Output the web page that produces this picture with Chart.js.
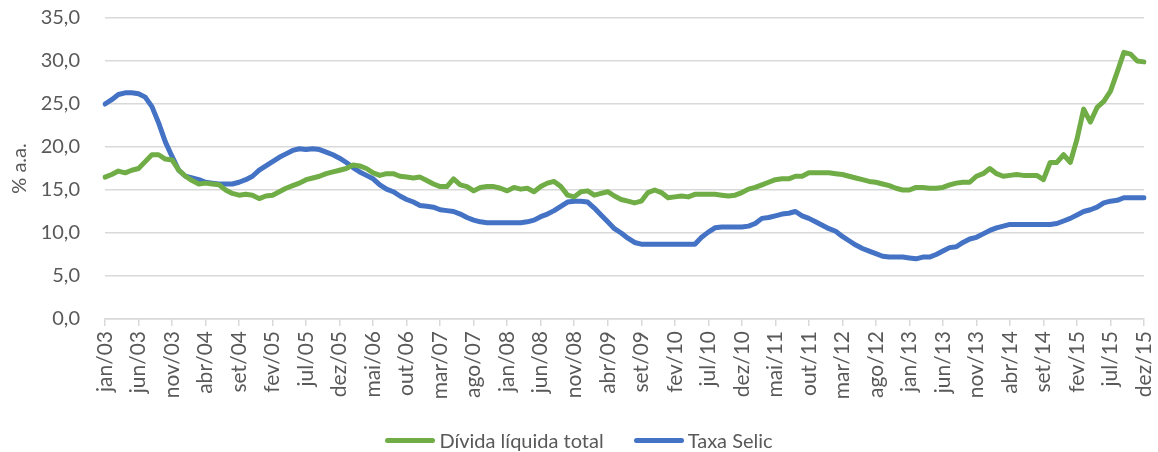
<!DOCTYPE html>
<html lang="pt-BR">
<head>
<meta charset="UTF-8">
<title>Dívida líquida total e Taxa Selic</title>
<style>
    html, body { margin: 0; padding: 0; background: #fff; }
    #wrap { position: relative; width: 1158px; height: 452px; }
    #legend {
        position: absolute;
        left: 0;
        right: 0;
        top: 428px;
        display: flex;
        justify-content: center;
        gap: 30px;
        font-family: Lato, "Open Sans", sans-serif;
        font-size: 20px;
        line-height: 24px;
        color: #595959;
    }
    #legend .item { display: flex; align-items: center; }
    #legend .swatch { width: 50px; height: 5px; border-radius: 3px; margin-right: 4px; }
</style>
</head>
<body>
<div id="wrap">
    <canvas id="chart"></canvas>
    <div id="legend"></div>
</div>
<script src="https://cdn.jsdelivr.net/npm/chart.js"></script>
<script>
    // Monthly series, jan/03 .. dez/15 (% a.a.)
    const monthNames = ['jan', 'fev', 'mar', 'abr', 'mai', 'jun', 'jul', 'ago', 'set', 'out', 'nov', 'dez'];
    const years = ['03', '04', '05', '06', '07', '08', '09', '10', '11', '12', '13', '14', '15'];
    const categories = [];
    years.forEach(y => monthNames.forEach(m => categories.push(m + '/' + y)));

    const dividaLiquida = [
        16.5, 16.8, 17.2, 17.0, 17.3, 17.5, 18.3, 19.1, 19.1, 18.6, 18.5, 17.3,
        16.6, 16.1, 15.7, 15.8, 15.7, 15.6, 15.0, 14.6, 14.4, 14.5, 14.4, 14.0,
        14.3, 14.4, 14.8, 15.2, 15.5, 15.8, 16.2, 16.4, 16.6, 16.9, 17.1, 17.3,
        17.5, 17.9, 17.8, 17.5, 17.0, 16.7, 16.9, 16.9, 16.6, 16.5, 16.4, 16.5,
        16.1, 15.7, 15.4, 15.4, 16.3, 15.6, 15.4, 14.9, 15.3, 15.4, 15.4, 15.2,
        14.9, 15.3, 15.1, 15.2, 14.8, 15.4, 15.8, 16.0, 15.4, 14.4, 14.2, 14.8,
        14.9, 14.4, 14.6, 14.8, 14.3, 13.9, 13.7, 13.5, 13.7, 14.7, 15.0, 14.7,
        14.1, 14.2, 14.3, 14.2, 14.5, 14.5, 14.5, 14.5, 14.4, 14.3, 14.4, 14.7,
        15.1, 15.3, 15.6, 15.9, 16.2, 16.3, 16.3, 16.6, 16.6, 17.0, 17.0, 17.0,
        17.0, 16.9, 16.8, 16.6, 16.4, 16.2, 16.0, 15.9, 15.7, 15.5, 15.2, 15.0,
        15.0, 15.3, 15.3, 15.2, 15.2, 15.3, 15.6, 15.8, 15.9, 15.9, 16.6, 16.9,
        17.5, 16.9, 16.6, 16.7, 16.8, 16.7, 16.7, 16.7, 16.2, 18.2, 18.2, 19.1,
        18.2, 20.9, 24.4, 22.9, 24.6, 25.3, 26.5, 28.7, 31.0, 30.8, 30.0, 29.9
    ];

    const taxaSelic = [
        25.0, 25.5, 26.1, 26.3, 26.3, 26.2, 25.8, 24.7, 22.8, 20.6, 18.9, 17.3,
        16.6, 16.4, 16.2, 15.9, 15.8, 15.7, 15.7, 15.7, 15.9, 16.2, 16.6, 17.3,
        17.8, 18.3, 18.8, 19.2, 19.6, 19.8, 19.7, 19.8, 19.7, 19.4, 19.1, 18.7,
        18.2, 17.6, 17.1, 16.7, 16.3, 15.6, 15.1, 14.8, 14.3, 13.9, 13.6, 13.2,
        13.1, 13.0, 12.7, 12.6, 12.5, 12.2, 11.8, 11.5, 11.3, 11.2, 11.2, 11.2,
        11.2, 11.2, 11.2, 11.3, 11.5, 11.9, 12.2, 12.6, 13.1, 13.6, 13.7, 13.7,
        13.6, 12.9, 12.1, 11.3, 10.5, 10.0, 9.4, 8.9, 8.7, 8.7, 8.7, 8.7,
        8.7, 8.7, 8.7, 8.7, 8.7, 9.5, 10.1, 10.6, 10.7, 10.7, 10.7, 10.7,
        10.8, 11.1, 11.7, 11.8, 12.0, 12.2, 12.3, 12.5, 12.0, 11.7, 11.3, 10.9,
        10.5, 10.2, 9.6, 9.1, 8.6, 8.2, 7.9, 7.6, 7.3, 7.2, 7.2, 7.2,
        7.1, 7.0, 7.2, 7.2, 7.5, 7.9, 8.3, 8.4, 8.9, 9.3, 9.5, 9.9,
        10.3, 10.6, 10.8, 11.0, 11.0, 11.0, 11.0, 11.0, 11.0, 11.0, 11.1, 11.4,
        11.7, 12.1, 12.5, 12.7, 13.0, 13.5, 13.7, 13.8, 14.1, 14.1, 14.1, 14.1
    ];

    const yTicks = [0, 5, 10, 15, 20, 25, 30, 35];
    const labelEvery = 5;

    const GREEN = '#70ad47';
    const BLUE = '#4472c4';
    const TEXT = '#595959';
    const GRID = '#d9d9d9';
    const FONT = 'Lato, "Open Sans", sans-serif';

    const fmt = v => v.toFixed(1).replace('.', ',');

    // legend rendered as html under the canvas
    const htmlLegend = {
        id: 'htmlLegend',
        afterUpdate(chart) {
            const box = document.getElementById('legend');
            box.innerHTML = '';
            chart.data.datasets.forEach(ds => {
                const item = document.createElement('div');
                item.className = 'item';
                const sw = document.createElement('span');
                sw.className = 'swatch';
                sw.style.background = ds.borderColor;
                const txt = document.createElement('span');
                txt.textContent = ds.label;
                item.appendChild(sw);
                item.appendChild(txt);
                box.appendChild(item);
            });
        }
    };

    const ctx = document.getElementById('chart').getContext('2d');
    new Chart(ctx, {
        type: 'line',
        data: {
            labels: categories,
            datasets: [
                {
                    label: 'Dívida líquida total',
                    data: dividaLiquida,
                    borderColor: GREEN,
                    backgroundColor: GREEN,
                    borderWidth: 5,
                    borderCapStyle: 'round',
                    borderJoinStyle: 'round',
                    pointRadius: 0,
                    tension: 0,
                    fill: false
                },
                {
                    label: 'Taxa Selic',
                    data: taxaSelic,
                    borderColor: BLUE,
                    backgroundColor: BLUE,
                    borderWidth: 5,
                    borderCapStyle: 'round',
                    borderJoinStyle: 'round',
                    pointRadius: 0,
                    tension: 0,
                    fill: false
                }
            ]
        },
        plugins: [htmlLegend],
        options: {
            responsive: true,
            maintainAspectRatio: false,
            animation: false,
            layout: { padding: { top: 18, right: 14, bottom: 48, left: 0 } },
            plugins: {
                tooltip: { enabled: false },
                legend: { display: false }
            },
            scales: {
                x: {
                    grid: { drawOnChartArea: false, drawTicks: true, tickLength: 7, color: GRID, lineWidth: 1.5 },
                    border: { color: GRID, width: 1.5 },
                    ticks: {
                        autoSkip: false,
                        minRotation: 90,
                        maxRotation: 90,
                        padding: 5,
                        color: TEXT,
                        font: { family: FONT, size: 21 },
                        callback: (v, i) => i % labelEvery === 0 ? categories[i] : null
                    },
                    afterFit: s => {
                        s.height = 85;
                        s.paddingLeft = 0;
                        s.paddingRight = 0;
                    }
                },
                y: {
                    min: yTicks[0],
                    max: yTicks[yTicks.length - 1],
                    grid: { color: GRID, lineWidth: 1.5, drawTicks: false },
                    border: { display: false },
                    afterBuildTicks: s => { s.ticks = yTicks.map(v => ({ value: v })); },
                    ticks: {
                        padding: 25,
                        color: TEXT,
                        font: { family: FONT, size: 20 },
                        callback: v => fmt(v)
                    },
                    title: {
                        display: true,
                        text: '% a.a.',
                        color: TEXT,
                        font: { family: FONT, size: 20 },
                        padding: { top: 8, bottom: 0 }
                    },
                    afterFit: s => {
                        s.width = 105;
                        s.paddingTop = 0;
                        s.paddingBottom = 0;
                    }
                }
            }
        }
    });
</script>
</body>
</html>
